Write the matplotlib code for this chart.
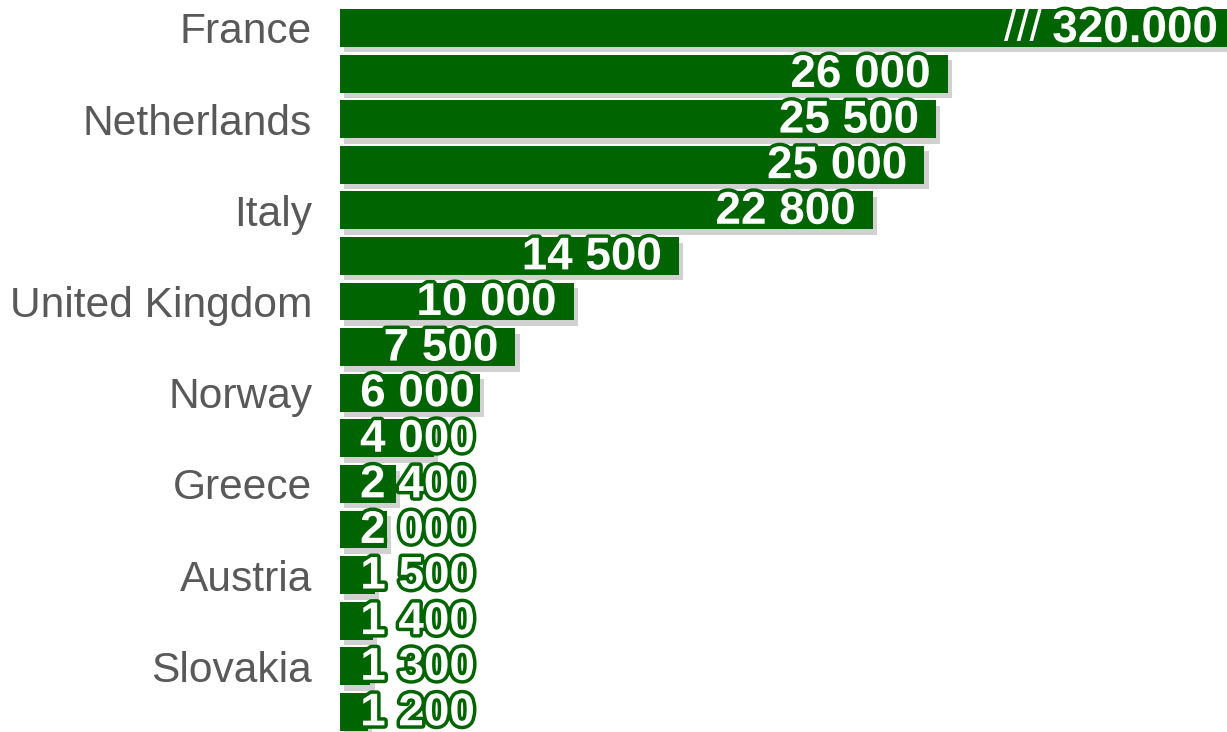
import matplotlib.pyplot as plt
import matplotlib.patheffects as pe

countries = ["France", "", "Netherlands", "", "Italy", "", "United Kingdom", "",
             "Norway", "", "Greece", "", "Austria", "", "Slovakia", ""]
values = [320000, 26000, 25500, 25000, 22800, 14500, 10000, 7500,
          6000, 4000, 2400, 2000, 1500, 1400, 1300, 1200]
value_labels = ["320.000", "26 000", "25 500", "25 000", "22 800", "14 500", "10 000", "7 500",
                "6 000", "4 000", "2 400", "2 000", "1 500", "1 400", "1 300", "1 200"]

GREEN = "#006400"
X_MAX = 37940
LABEL_MIN = 6500

plt.rcParams["font.family"] = ["Liberation Sans", "DejaVu Sans"]

fig = plt.figure(figsize=(12.27, 7.32), dpi=100)
ax = fig.add_axes([340 / 1227, 0, 887 / 1227, 1])

positions = list(range(len(values)))
bars = ax.barh(positions, values, height=0.83, color=GREEN, zorder=2)
for bar in bars:
    bar.set_path_effects([
        pe.SimplePatchShadow(offset=(3, -4), shadow_rgbFace="#8c8c8c", alpha=0.4),
        pe.Normal(),
    ])

ax.set_xlim(0, X_MAX)
ax.set_ylim(15.44, -0.614)
ax.set_yticks(positions)
ax.set_yticklabels(countries)
ax.tick_params(axis="y", length=0, pad=20, labelsize=30.6, labelcolor="#595959")
ax.set_xticks([])
for side in ax.spines.values():
    side.set_visible(False)

glow = [pe.withStroke(linewidth=5, foreground=GREEN)]
for i, (v, lab) in enumerate(zip(values, value_labels)):
    if v > X_MAX:
        ax.annotate(lab, xy=(1, i), xycoords=("axes fraction", "data"),
                    xytext=(-6, -1.5), textcoords="offset points",
                    ha="right", va="center", fontsize=33, fontweight="bold",
                    color="white", path_effects=glow, zorder=4)
        ax.annotate("///", xy=(1, i), xycoords=("axes fraction", "data"),
                    xytext=(-133, -1), textcoords="offset points",
                    ha="right", va="center", fontsize=33,
                    color="white", zorder=4)
    else:
        ax.annotate(lab, xy=(max(v, LABEL_MIN), i),
                    xytext=(-12, -1), textcoords="offset points",
                    ha="right", va="center", fontsize=33, fontweight="bold",
                    color="white", path_effects=glow, zorder=4)

fig.savefig("out.png", dpi=100)
